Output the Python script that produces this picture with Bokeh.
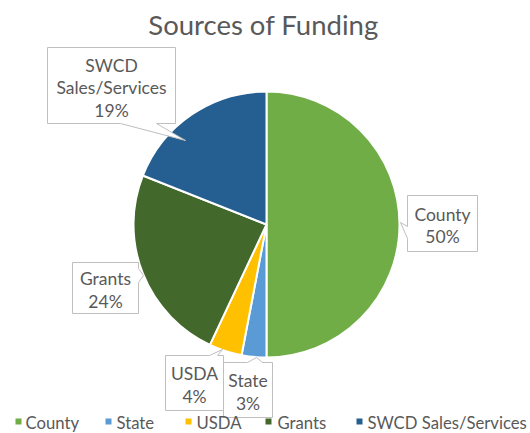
import math
from bokeh.plotting import figure
from bokeh.models import Range1d, ColumnDataSource
from bokeh.embed import file_html
from bokeh.resources import INLINE
from bokeh.core.properties import value

# ---------------- data ----------------
title = "Sources of Funding"
categories = ["County", "State", "USDA", "Grants", "SWCD Sales/Services"]
values = [50, 3, 4, 24, 19]
label_names = [["County"], ["State"], ["USDA"], ["Grants"], ["SWCD", "Sales/Services"]]
colors = ["#70AD47", "#5B9BD5", "#FFC000", "#43682B", "#255E91"]

# ---------------- layout (page pixel coordinates) ----------------
FONT = "Lato"
TEXT_COLOR = "#595959"
CX, CY, R = 266, 224, 133
# callout boxes: (x0, y0, x1, y1), side of pointer, pointer base (a, b), tip
callouts = {
    "County": ((407, 195, 477, 251), "left", (226, 238), (400, 222)),
    "State": ((223, 362, 272, 417), "top", (247, 262), (256, 357)),
    "USDA": ((165, 355, 223, 410), "top", (209, 217), (222, 349)),
    "Grants": ((72, 262, 138, 313), "right", (268, 282), (143, 275)),
    "SWCD Sales/Services": ((47, 47, 175, 123), "bottom", (120, 156), (185, 140)),
}
draw_order = ["County", "SWCD Sales/Services", "Grants", "State", "USDA"]
legend_marker_x = [18, 108, 188, 268, 359]
legend_text_x = [25, 116, 196, 277, 367]
LEGEND_Y = 422
TITLE_Y = 24

PAGE_W, PAGE_H = 530, 433


def Y(py):
    return PAGE_H - py


p = figure(width=PAGE_W, height=PAGE_H, x_range=Range1d(0, PAGE_W), y_range=Range1d(0, PAGE_H),
           output_backend="svg", toolbar_location=None, min_border=0)
p.axis.visible = False
p.grid.visible = False
p.outline_line_color = None
p.background_fill_color = "white"
p.border_fill_color = "white"

# ---------------- pie ----------------
total = float(sum(values))
starts, ends = [], []
cum = 0.0
for v in values:
    starts.append(math.pi / 2 - 2 * math.pi * cum / total)
    cum += v
    ends.append(math.pi / 2 - 2 * math.pi * cum / total)

src = ColumnDataSource(dict(cat=categories, val=values, start=starts, end=ends, color=colors))
p.wedge(x=CX, y=Y(CY), radius=R, start_angle="start", end_angle="end", direction="clock",
        fill_color="color", line_color="white", line_width=2, source=src)

# ---------------- callouts ----------------
def callout_poly(box, side, base, tip):
    x0, y0, x1, y1 = box
    a, b = base
    tx, ty = tip
    pts = [(x0, y0)]
    if side == "top":
        pts += [(a, y0), (tx, ty), (b, y0)]
    pts += [(x1, y0)]
    if side == "right":
        pts += [(x1, a), (tx, ty), (x1, b)]
    pts += [(x1, y1)]
    if side == "bottom":
        pts += [(b, y1), (tx, ty), (a, y1)]
    pts += [(x0, y1)]
    if side == "left":
        pts += [(x0, b), (tx, ty), (x0, a)]
    return [q[0] for q in pts], [Y(q[1]) for q in pts]


pct = [round(100 * v / total) for v in values]
for cat in draw_order:
    i = categories.index(cat)
    box, side, base, tip = callouts[cat]
    xs, ys = callout_poly(box, side, base, tip)
    p.patch(xs, ys, fill_color="white", line_color="#BFBFBF", line_width=1)
    lines = label_names[i] + [f"{pct[i]}%"]
    n = len(lines)
    bc = (box[1] + box[3]) / 2.0
    bx = (box[0] + box[2]) / 2.0
    ty_list = [Y(bc + 2.0 + (k - (n - 1) / 2.0) * 22.5) for k in range(n)]
    p.text(x=[bx] * n, y=ty_list, text=lines, text_align="center", text_baseline="middle",
           text_font=value(FONT), text_font_size="17.5px", text_color=TEXT_COLOR)

# ---------------- title ----------------
p.text(x=[263], y=[Y(TITLE_Y)], text=[title], text_align="center", text_baseline="middle",
       text_font=value(FONT), text_font_size="27.5px", text_color=TEXT_COLOR)

# ---------------- legend ----------------
p.scatter(x=legend_marker_x, y=[Y(421)] * len(categories), marker="square", size=6,
          fill_color=colors, line_color=None)
p.text(x=legend_text_x, y=[Y(LEGEND_Y)] * len(categories), text=categories,
       text_align="left", text_baseline="middle",
       text_font=value(FONT), text_font_size="16.7px", text_color=TEXT_COLOR)

open("out.html", "w").write(file_html(p, INLINE))
